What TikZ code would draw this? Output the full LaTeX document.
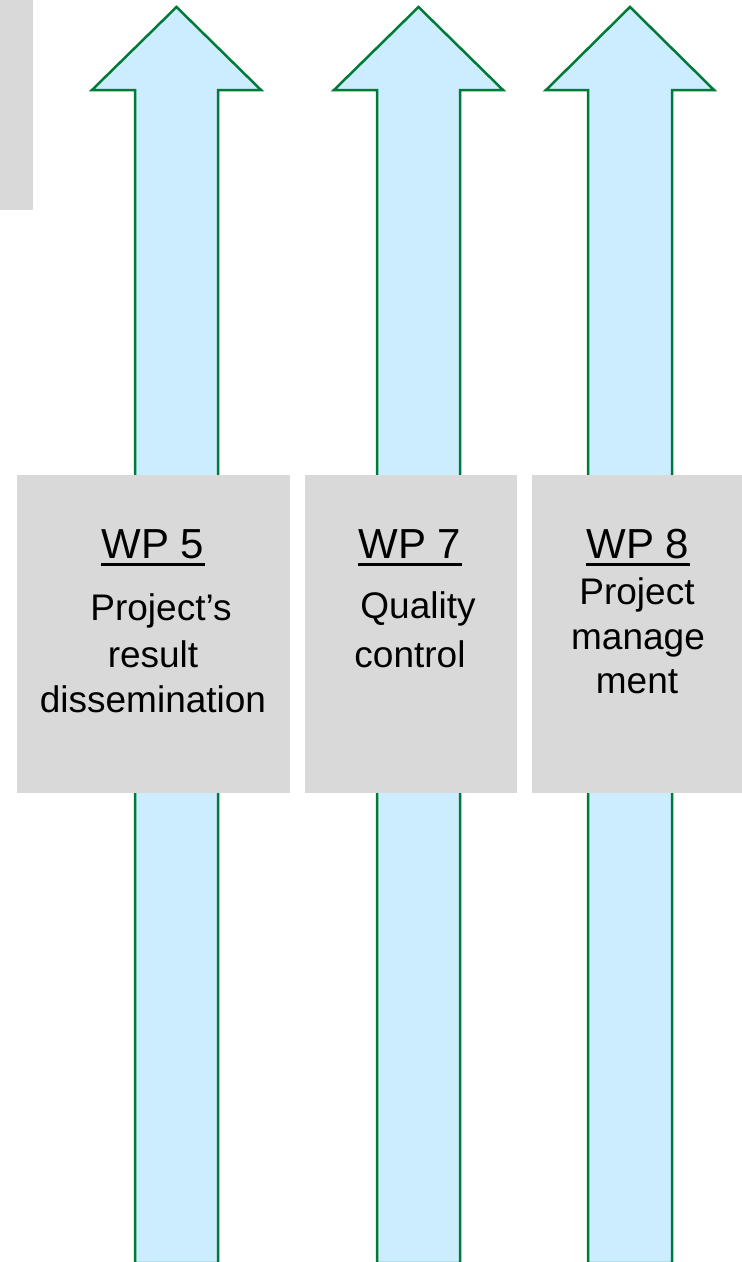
\documentclass[tikz,border=0pt]{standalone}
\usepackage{fontspec}
\setmainfont{Liberation Sans}
\definecolor{wpgray}{HTML}{D9D9D9}
\definecolor{wpblue}{HTML}{CCECFF}
\definecolor{wpgreen}{RGB}{0,122,55}
\begin{document}
\begin{tikzpicture}[
    x=1pt, y=-1pt,
    wpbox/.style={rectangle, fill=wpgray, inner sep=0pt, minimum height=318pt},
    wparrow/.style={fill=wpblue, draw=wpgreen, line width=2.5pt, line join=miter},
    title/.style={font=\fontsize{42}{50}\selectfont, inner sep=0pt, anchor=base},
    body/.style={font=\fontsize{37}{45}\selectfont, inner sep=0pt, anchor=base},
    uline/.style={line width=3pt}
]
\useasboundingbox (0,0) rectangle (742,1262);

% arrows
\draw[wparrow] (135,1263) -- (135,90) -- (92,90) -- (176.5,7) -- (261,90) -- (218,90) -- (218,1263) -- cycle;
\draw[wparrow] (377,1263) -- (377,90) -- (334,90) -- (418.5,7) -- (503,90) -- (460,90) -- (460,1263) -- cycle;
\draw[wparrow] (588,1263) -- (588,90) -- (546,90) -- (630,7) -- (714,90) -- (672,90) -- (672,1263) -- cycle;

% boxes
\node[wpbox, minimum width=33pt, minimum height=210pt] (side) at (16.5,105) {};
\node[wpbox, minimum width=273pt] (box5) at (153.5,634) {};
\node[wpbox, minimum width=212pt] (box7) at (411,634) {};
\node[wpbox, minimum width=210pt] (box8) at (637,634) {};

% WP 5
\node[title] (wp5) at (153,558) {WP 5};
\draw[uline] ([yshift=-6.5pt]wp5.base west) -- ([yshift=-6.5pt]wp5.base east);
\node[body] (l5a) at (161,620) {Project’s};
\node[body] (l5b) at (153,667) {result};
\node[body] (l5c) at (153,712) {dissemination};

% WP 7
\node[title] (wp7) at (410,558) {WP 7};
\draw[uline] ([yshift=-6.5pt]wp7.base west) -- ([yshift=-6.5pt]wp7.base east);
\node[body] (l7a) at (418,618) {Quality};
\node[body] (l7b) at (410,667) {control};

% WP 8
\node[title] (wp8) at (638,558) {WP 8};
\draw[uline] ([yshift=-6.5pt]wp8.base west) -- ([yshift=-6.5pt]wp8.base east);
\node[body] (l8a) at (637,604) {Project};
\node[body] (l8b) at (638,649) {manage};
\node[body] (l8c) at (637,693) {ment};
\end{tikzpicture}
\end{document}
